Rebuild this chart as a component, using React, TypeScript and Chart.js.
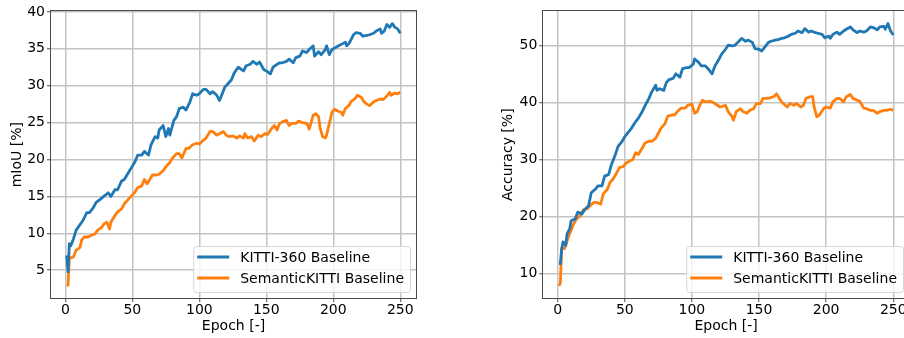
import { useEffect, useRef } from "react";
import { Chart, registerables } from "chart.js";

Chart.register(...registerables);

// ---------- Data ----------
const seriesLabels = ["KITTI-360 Baseline", "SemanticKITTI Baseline"];
const seriesColors = ["#1f77b4", "#ff7f0e"];

const xTicks = [0, 50, 100, 150, 200, 250];
const miouTicks = [5, 10, 15, 20, 25, 30, 35, 40];
const accTicks = [10, 20, 30, 40, 50];

// mIoU — KITTI-360 Baseline
const kittiMiouEpochs = [1, 2, 3, 4, 6, 8, 11, 13, 16, 18, 21, 23, 26, 28, 32, 34, 37, 39, 42, 44, 47, 49, 52, 54, 57, 59, 62, 64, 67, 69, 70, 73, 75, 77, 78, 81, 83, 85, 88, 90, 93, 95, 98, 100, 103, 105, 108, 110, 113, 115, 116, 119, 121, 124, 126, 129, 133, 135, 138, 140, 143, 145, 148, 150, 153, 155, 158, 160, 162, 165, 167, 170, 172, 175, 177, 180, 182, 185, 186, 189, 191, 194, 195, 197, 199, 201, 204, 206, 209, 210, 212, 215, 217, 220, 222, 225, 227, 230, 232, 235, 236, 238, 240, 242, 244, 246, 248, 250];
const kittiMiouValues = [7.0, 4.8, 8.6, 8.3, 9.2, 10.4, 11.2, 11.7, 12.8, 12.8, 13.5, 14.2, 14.6, 14.9, 15.5, 15.0, 15.9, 15.9, 17.1, 17.3, 18.2, 18.8, 19.7, 20.6, 20.6, 21.1, 20.6, 22.0, 23.1, 22.9, 24.0, 24.6, 23.1, 24.2, 23.3, 25.3, 25.8, 26.9, 27.1, 26.7, 27.8, 28.9, 28.7, 28.9, 29.5, 29.5, 28.9, 29.2, 28.7, 28.0, 28.4, 29.8, 30.2, 30.8, 31.7, 32.5, 32.0, 32.7, 32.9, 33.3, 32.9, 33.2, 32.2, 32.0, 31.6, 32.5, 32.9, 33.1, 33.1, 33.3, 33.6, 33.1, 33.8, 34.0, 34.7, 34.5, 34.9, 35.4, 34.0, 34.6, 34.2, 34.9, 35.4, 34.2, 34.9, 35.1, 35.4, 35.6, 35.9, 35.4, 35.8, 36.9, 37.2, 37.1, 36.7, 36.8, 36.9, 37.1, 37.4, 37.7, 37.1, 37.4, 38.3, 37.9, 38.4, 37.9, 37.7, 37.1];

// mIoU — SemanticKITTI Baseline
const semMiouEpochs = [1, 2, 3, 6, 8, 11, 12, 14, 17, 19, 22, 24, 27, 29, 31, 33, 34, 37, 39, 42, 44, 47, 49, 52, 54, 57, 59, 61, 63, 65, 68, 70, 73, 75, 78, 80, 83, 85, 87, 90, 92, 95, 98, 100, 103, 105, 108, 110, 113, 115, 118, 120, 122, 125, 128, 130, 133, 134, 136, 139, 141, 144, 146, 149, 151, 154, 156, 158, 160, 162, 165, 167, 169, 172, 174, 177, 180, 181, 182, 185, 187, 189, 190, 192, 194, 195, 197, 199, 201, 204, 206, 207, 209, 212, 213, 216, 218, 221, 223, 225, 227, 230, 232, 235, 237, 240, 242, 243, 246, 248, 250];
const semMiouValues = [2.9, 3.0, 6.6, 6.8, 7.7, 8.1, 9.0, 9.5, 9.5, 9.7, 9.9, 10.4, 10.8, 11.3, 11.5, 10.6, 11.5, 12.4, 12.9, 13.3, 14.0, 14.6, 15.0, 15.6, 16.2, 16.4, 17.3, 16.7, 17.3, 17.9, 17.9, 18.0, 18.5, 19.0, 19.6, 20.2, 20.8, 20.8, 20.2, 21.5, 21.5, 22.0, 22.2, 22.1, 22.6, 22.9, 23.8, 23.8, 23.3, 23.5, 23.8, 23.3, 23.1, 23.2, 22.9, 23.2, 22.9, 23.5, 22.9, 23.1, 22.5, 23.3, 23.1, 23.5, 23.4, 24.2, 24.6, 24.0, 24.9, 25.1, 25.3, 24.6, 24.9, 24.9, 25.2, 25.0, 24.9, 24.6, 24.1, 26.0, 26.2, 25.8, 24.4, 23.1, 22.9, 23.3, 24.9, 26.4, 26.8, 26.5, 26.4, 26.0, 26.9, 27.4, 27.8, 28.2, 28.7, 28.4, 27.8, 27.5, 27.3, 27.8, 28.0, 28.2, 28.1, 28.6, 29.1, 28.7, 29.0, 28.9, 29.1];

// Accuracy — KITTI-360 Baseline
const kittiAccEpochs = [1, 2, 3, 4, 6, 7, 9, 10, 13, 15, 18, 20, 23, 25, 28, 30, 33, 35, 38, 40, 43, 45, 48, 50, 53, 55, 58, 60, 63, 65, 68, 70, 73, 74, 76, 79, 81, 83, 86, 88, 91, 93, 96, 98, 101, 102, 105, 107, 110, 112, 115, 117, 120, 122, 125, 127, 130, 132, 135, 137, 140, 142, 145, 147, 150, 152, 155, 157, 159, 162, 164, 167, 169, 172, 174, 177, 179, 182, 184, 187, 189, 192, 194, 197, 199, 202, 203, 205, 208, 210, 213, 215, 218, 220, 223, 225, 228, 230, 233, 235, 238, 240, 243, 244, 246, 248, 250];
const kittiAccValues = [11.8, 11.8, 14.4, 15.6, 15.0, 17.0, 17.9, 19.3, 19.6, 20.8, 20.5, 21.2, 21.9, 24.2, 24.8, 25.4, 25.4, 27.1, 27.4, 29.1, 30.9, 32.3, 33.2, 34.0, 34.9, 35.5, 36.6, 37.2, 38.4, 39.4, 40.7, 41.8, 43.0, 42.1, 42.4, 42.1, 43.5, 44.0, 44.2, 45.0, 44.4, 45.9, 46.1, 46.1, 46.7, 47.6, 47.0, 46.4, 46.4, 45.9, 45.0, 46.3, 47.5, 48.4, 49.3, 50.0, 49.9, 50.0, 50.7, 51.2, 50.7, 50.9, 50.5, 49.4, 49.3, 49.0, 49.9, 50.5, 50.7, 50.9, 51.0, 51.2, 51.3, 51.6, 51.9, 52.1, 52.5, 52.2, 52.9, 52.3, 52.5, 52.2, 52.1, 51.9, 51.3, 51.6, 51.2, 51.9, 52.3, 51.9, 52.5, 52.8, 53.2, 52.7, 52.2, 52.5, 52.3, 52.5, 53.2, 53.1, 52.7, 53.2, 53.3, 52.8, 53.8, 52.5, 51.8];

// Accuracy — SemanticKITTI Baseline
const semAccEpochs = [1, 2, 3, 5, 6, 8, 10, 12, 14, 17, 19, 22, 24, 27, 29, 32, 34, 37, 39, 41, 44, 46, 49, 51, 54, 56, 58, 60, 63, 65, 68, 70, 73, 75, 77, 80, 82, 85, 87, 90, 92, 95, 97, 100, 102, 104, 106, 108, 110, 113, 115, 117, 121, 125, 127, 130, 131, 133, 136, 138, 141, 143, 146, 148, 151, 153, 156, 158, 161, 163, 166, 168, 171, 173, 176, 178, 181, 183, 185, 188, 190, 191, 193, 195, 198, 200, 203, 205, 208, 210, 213, 215, 218, 220, 223, 225, 228, 230, 233, 235, 238, 240, 243, 245, 248, 250];
const semAccValues = [7.9, 8.4, 14.4, 14.4, 15.0, 16.5, 17.6, 18.8, 19.6, 20.2, 21.2, 21.4, 21.9, 22.5, 22.5, 22.2, 24.0, 24.8, 26.0, 26.5, 27.7, 28.6, 28.8, 29.4, 29.8, 30.0, 31.2, 30.9, 32.0, 32.9, 33.2, 33.2, 33.7, 34.6, 35.5, 36.3, 37.6, 37.8, 37.8, 38.6, 39.0, 39.0, 39.5, 39.7, 38.1, 38.4, 39.6, 40.4, 40.1, 40.2, 40.1, 39.8, 39.2, 39.5, 38.4, 37.5, 36.9, 38.4, 38.9, 38.4, 38.1, 38.6, 38.9, 39.8, 39.8, 40.7, 40.7, 40.8, 41.0, 41.5, 40.4, 39.8, 39.2, 39.8, 39.5, 39.8, 39.2, 39.5, 40.7, 41.0, 41.0, 39.2, 37.5, 37.8, 38.9, 39.2, 39.0, 40.1, 40.7, 40.7, 40.1, 41.0, 41.4, 40.7, 40.4, 40.2, 39.0, 38.9, 38.6, 38.6, 38.1, 38.4, 38.6, 38.6, 38.8, 38.6];

// ---------- Styling ----------
const FONT = "'DejaVu Sans', 'Liberation Sans', sans-serif";
const GRID_COLOR = "#c4c4c4";
const SPINE_COLOR = "#4a4a4a";

const frameLegendPlugin = {
  id: "frameLegend",
  afterDatasetsDraw(chart: any) {
    const { ctx, chartArea: a } = chart;
    ctx.save();
    // spines
    ctx.strokeStyle = SPINE_COLOR;
    ctx.lineWidth = 1;
    const l = Math.round(a.left) + 0.5;
    const t = Math.round(a.top) + 0.5;
    const r = Math.round(a.right) - 0.5;
    const b = Math.round(a.bottom) - 0.5;
    ctx.strokeRect(l, t, r - l, b - t);

    // legend (lower right, inside axes)
    ctx.font = `14px ${FONT}`;
    const ds = chart.data.datasets;
    const textW = Math.max(...ds.map((d: any) => ctx.measureText(d.label).width));
    const padL = 4, lineLen = 32, gap = 11, padR = 6, rowH = 21, padT = 11, h = 46;
    const w = padL + lineLen + gap + textW + padR;
    const x = a.right - 7 - w;
    const y = a.bottom - 7 - h;
    ctx.beginPath();
    if ((ctx as any).roundRect) (ctx as any).roundRect(x + 0.5, y + 0.5, w, h, 3);
    else ctx.rect(x + 0.5, y + 0.5, w, h);
    ctx.fillStyle = "rgba(255,255,255,0.8)";
    ctx.fill();
    ctx.strokeStyle = "#d6d6d6";
    ctx.lineWidth = 1;
    ctx.stroke();
    ds.forEach((d: any, i: number) => {
      const cy = y + padT + i * rowH;
      ctx.beginPath();
      ctx.strokeStyle = d.borderColor;
      ctx.lineWidth = 3;
      ctx.moveTo(x + padL, cy);
      ctx.lineTo(x + padL + lineLen, cy);
      ctx.stroke();
      ctx.fillStyle = "#000";
      ctx.textBaseline = "middle";
      ctx.textAlign = "left";
      ctx.fillText(d.label, x + padL + lineLen + gap, cy + 1);
    });
    ctx.restore();
  },
};

type Series = { epochs: number[]; values: number[] };

function buildChart(
  canvas: HTMLCanvasElement,
  series: Series[],
  yTicks: number[],
  yMin: number,
  yMax: number,
  yTitle: string,
  padLeft: number,
  yAxisWidth: number,
  padRight: number
) {
  const tickFont = { family: FONT, size: 14 };
  return new Chart(canvas, {
    type: "line",
    data: {
      datasets: series.map((s, i) => ({
        label: seriesLabels[i],
        data: s.epochs.map((e, j) => ({ x: e, y: s.values[j] })),
        borderColor: seriesColors[i],
        backgroundColor: seriesColors[i],
        borderWidth: 2.8,
        pointRadius: 0,
        tension: 0,
        fill: false,
        borderJoinStyle: "round" as const,
      })),
    },
    options: {
      responsive: false,
      animation: false,
      devicePixelRatio: 1,
      layout: { padding: { left: padLeft, top: 7, right: padRight, bottom: 0 } },
      plugins: { legend: { display: false }, tooltip: { enabled: false } },
      scales: {
        x: {
          type: "linear",
          min: -11.45,
          max: 262.45,
          afterBuildTicks: (s: any) => {
            s.ticks = xTicks.map((v) => ({ value: v }));
          },
          afterFit: (s: any) => {
            s.height = 39;
          },
          grid: { color: GRID_COLOR, lineWidth: 1.5, tickLength: 3, tickColor: SPINE_COLOR, tickWidth: 1 },
          border: { display: false },
          ticks: { font: tickFont, color: "#000", padding: 0, maxRotation: 0, autoSkip: false },
          title: {
            display: true,
            text: "Epoch [-]",
            font: { family: FONT, size: 14, lineHeight: 1.2 },
            color: "#000",
            padding: { top: 0, bottom: 3 },
          },
        },
        y: {
          type: "linear",
          min: yMin,
          max: yMax,
          afterBuildTicks: (s: any) => {
            s.ticks = yTicks.map((v) => ({ value: v }));
          },
          afterFit: (s: any) => {
            s.width = yAxisWidth;
          },
          grid: { color: GRID_COLOR, lineWidth: 1.5, tickLength: 3, tickColor: SPINE_COLOR, tickWidth: 1 },
          border: { display: false },
          ticks: { font: tickFont, color: "#000", padding: 2, autoSkip: false },
          title: {
            display: true,
            text: yTitle,
            font: { family: FONT, size: 14, lineHeight: 1.2 },
            color: "#000",
            padding: { top: 4, bottom: 0 },
          },
        },
      },
    },
    plugins: [frameLegendPlugin],
  } as any);
}

export default function App() {
  const leftRef = useRef<HTMLCanvasElement | null>(null);
  const rightRef = useRef<HTMLCanvasElement | null>(null);

  useEffect(() => {
    if (!leftRef.current || !rightRef.current) return;
    const c1 = buildChart(
      leftRef.current,
      [
        { epochs: kittiMiouEpochs, values: kittiMiouValues },
        { epochs: semMiouEpochs, values: semMiouValues },
      ],
      miouTicks,
      1.1,
      40.2,
      "mIoU [%]",
      4.6,
      45.4,
      33
    );
    const c2 = buildChart(
      rightRef.current,
      [
        { epochs: kittiAccEpochs, values: kittiAccValues },
        { epochs: semAccEpochs, values: semAccValues },
      ],
      accTicks,
      5.6,
      56.1,
      "Accuracy [%]",
      45.6,
      46.7,
      2
    );
    return () => {
      c1.destroy();
      c2.destroy();
    };
  }, []);

  return (
    <div
      style={{
        position: "fixed",
        left: 0,
        top: 0,
        width: 904,
        height: 338,
        overflow: "hidden",
        background: "#fff",
      }}
    >
      <canvas
        ref={leftRef}
        width={450}
        height={338}
        style={{ position: "absolute", left: 0, top: 0, width: 450, height: 338 }}
      />
      <canvas
        ref={rightRef}
        width={462}
        height={338}
        style={{ position: "absolute", left: 450, top: 0, width: 462, height: 338 }}
      />
    </div>
  );
}
